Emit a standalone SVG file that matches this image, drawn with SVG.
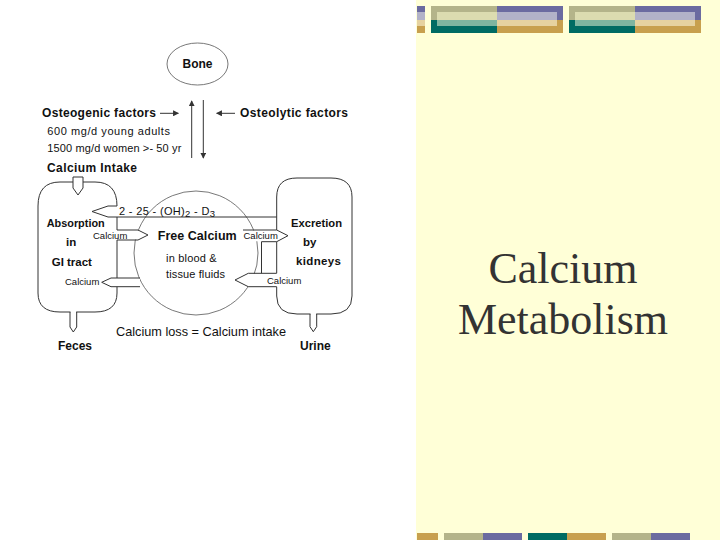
<svg xmlns="http://www.w3.org/2000/svg" width="720" height="540" viewBox="0 0 720 540">
<defs>
<style>
.ln{fill:none;stroke:#333;stroke-width:1}
.thin{fill:none;stroke:#555;stroke-width:0.8}
.wf{fill:#fff;stroke:none}
.b{font-family:"Liberation Sans",Arial,sans-serif;font-weight:bold;fill:#111}
.r{font-family:"Liberation Sans",Arial,sans-serif;fill:#111}
.t{font-family:"Liberation Serif","Times New Roman",serif;font-size:44px;fill:#333;text-anchor:middle}
.ol{fill:#B4B48A}.tl{fill:#006B63}.pu{fill:#6B6BA0}.go{fill:#C8A04E}
.lol{fill:#DCDCB0}.ltl{fill:#7FB5A0}.lpu{fill:#B2B2C8}.lgo{fill:#E6D2A0}
</style>
<marker id="ah" viewBox="0 0 8 8" refX="7" refY="4" markerWidth="6" markerHeight="6" orient="auto" markerUnits="userSpaceOnUse">
<path d="M0,0 L8,4 L0,8 Z" fill="#333"/>
</marker>
</defs>
<rect x="0" y="0" width="720" height="540" fill="#fff"/>
<rect x="416" y="0" width="304" height="540" fill="#FFFFD7"/>
<g id="deco-top">
<rect class="pu" x="417" y="6" width="8" height="14"/><rect class="go" x="417" y="20" width="8" height="13"/>
<rect class="lpu" x="417" y="12" width="8" height="8"/><rect class="lgo" x="417" y="20" width="8" height="6"/>
<rect class="ol" x="431" y="6" width="66" height="14"/><rect class="tl" x="431" y="20" width="66" height="13"/>
<rect class="pu" x="497" y="6" width="66" height="14"/><rect class="go" x="497" y="20" width="66" height="13"/>
<rect class="lol" x="437" y="12" width="60" height="8"/><rect class="ltl" x="437" y="20" width="60" height="6"/>
<rect class="lpu" x="497" y="12" width="60" height="8"/><rect class="lgo" x="497" y="20" width="60" height="6"/>
<rect class="ol" x="569" y="6" width="66" height="14"/><rect class="tl" x="569" y="20" width="66" height="13"/>
<rect class="pu" x="635" y="6" width="66" height="14"/><rect class="go" x="635" y="20" width="66" height="13"/>
<rect class="lol" x="575" y="12" width="60" height="8"/><rect class="ltl" x="575" y="20" width="60" height="6"/>
<rect class="lpu" x="635" y="12" width="60" height="8"/><rect class="lgo" x="635" y="20" width="60" height="6"/>
</g>
<g id="deco-bottom">
<rect class="go" x="417" y="533" width="21" height="7"/>
<rect class="ol" x="444" y="533" width="39" height="7"/><rect class="pu" x="483" y="533" width="39" height="7"/>
<rect class="tl" x="528" y="533" width="39" height="7"/><rect class="go" x="567" y="533" width="39" height="7"/>
<rect class="ol" x="612" y="533" width="39" height="7"/><rect class="pu" x="651" y="533" width="39" height="7"/>
</g>
<g id="title">
<text class="t" x="563" y="283">Calcium</text>
<text class="t" x="563" y="334">Metabolism</text>
</g>
<g id="bone">
<ellipse class="thin" cx="197.5" cy="64" rx="30.5" ry="21"/>
<text class="b" x="197.5" y="68" font-size="12" text-anchor="middle">Bone</text>
</g>
<g id="gi-tract">
<path class="ln" d="M117,206 Q117,182 95,182 H60 Q38,182 38,206 V293 Q38,312 60,312 H95 Q117,312 117,293 V286.7"/>
<path class="ln" d="M117,217 V230 M117,240 V278"/>
<polygon points="73,177 83,177 83,188 78,195 73,188" fill="#fff" stroke="#333" stroke-width="1"/>
<polygon class="wf" points="70.5,311 76.2,311 76.2,327 73.3,331 70.5,327"/>
<path class="ln" d="M70,312 V327 L73.3,332 L76.7,327 V312"/>
<text class="b" x="46.7" y="226.5" font-size="11.5" textLength="58" lengthAdjust="spacingAndGlyphs">Absorption</text>
<text class="b" x="66" y="246" font-size="11.5">in</text>
<text class="b" x="51.7" y="265.5" font-size="11.5">GI tract</text>
</g>
<g id="kidneys">
<path class="ln" d="M276.7,217 V197 Q276.7,178 297,178 H331 Q352,178 352,197 V296 Q352,314 331,314 H297 Q276.7,314 276.7,296 V286.7"/>
<polygon class="wf" points="310.5,313 316.2,313 316.2,326.7 313.3,331 310.5,326.7"/>
<path class="ln" d="M310,314 V326.7 L313.3,331.7 L316.7,326.7 V314"/>
<text class="b" x="291" y="226.5" font-size="11.5" textLength="51" lengthAdjust="spacingAndGlyphs">Excretion</text>
<text class="b" x="303" y="245.5" font-size="11.5">by</text>
<text class="b" x="296" y="265" font-size="11.5" textLength="45" lengthAdjust="spacing">kidneys</text>
</g>
<g id="free-calcium">
<circle class="thin" cx="196" cy="253" r="62"/>
<text class="b" x="157.7" y="239.5" font-size="12.5" textLength="79" lengthAdjust="spacing">Free Calcium</text>
<text class="r" x="166" y="262" font-size="11" textLength="50.7" lengthAdjust="spacing">in blood &amp;</text>
<text class="r" x="166" y="278" font-size="11" textLength="59" lengthAdjust="spacing">tissue fluids</text>
</g>
<g id="connectors">
<path class="ln" d="M117,206 H108 L92,211.5 L108,217 H276.7 V230"/>
<polygon class="wf" points="92,230.5 138,230.5 147,235 138,239.5 92,239.5"/>
<path class="ln" d="M117,230 H138 L148,235 L138,240 H117"/>
<polygon class="wf" points="243,230.5 276.7,230.5 287,235.7 276.7,241.2 243,241.2"/>
<path class="ln" d="M243,230 H276.7 L288,235.7 L276.7,241.7 H261.5 V273.3 M276.7,241.7 V273.3"/>
<polygon class="wf" points="102.5,282.3 111,278.5 140,278.5 140,286.2 111,286.2"/>
<path class="ln" d="M140,278 H111 L101.7,282.3 L111,286.7 H140"/>
<polygon class="wf" points="236,280 248.3,273.8 302,273.8 302,286.2 248.3,286.2"/>
<path class="ln" d="M276.7,273.3 H248.3 L235,280 L248.3,286.7 H276.7"/>
<line class="ln" x1="191.7" y1="158" x2="191.7" y2="101" marker-end="url(#ah)"/>
<line class="ln" x1="203.3" y1="100" x2="203.3" y2="158" marker-end="url(#ah)"/>
<line class="ln" x1="160" y1="113.3" x2="178.3" y2="113.3" marker-end="url(#ah)"/>
<line class="ln" x1="235" y1="113.3" x2="216.7" y2="113.3" marker-end="url(#ah)"/>
<text class="r" x="93" y="238.5" font-size="9.5">Calcium</text>
<text class="r" x="243.5" y="239" font-size="9.5">Calcium</text>
<text class="r" x="65" y="285" font-size="9.5">Calcium</text>
<text class="r" x="267" y="283.5" font-size="9.5">Calcium</text>
<text class="r" x="119" y="215" font-size="11" textLength="96" lengthAdjust="spacing">2 - 25 - (OH)<tspan font-size="9.5" dy="2">2</tspan><tspan dy="-2"> - D</tspan><tspan font-size="9.5" dy="2">3</tspan></text>
</g>
<g id="labels">
<text class="b" x="42" y="117" font-size="12" textLength="114" lengthAdjust="spacing">Osteogenic factors</text>
<text class="b" x="240" y="117" font-size="12" textLength="108" lengthAdjust="spacing">Osteolytic factors</text>
<text class="r" x="47.3" y="134.5" font-size="11" textLength="122.7" lengthAdjust="spacing">600 mg/d young adults</text>
<text class="r" x="47.3" y="151.5" font-size="11" textLength="134" lengthAdjust="spacing">1500 mg/d women &gt;- 50 yr</text>
<text class="b" x="47" y="172" font-size="12" textLength="90" lengthAdjust="spacing">Calcium Intake</text>
<text class="r" x="116" y="336" font-size="13" textLength="170" lengthAdjust="spacingAndGlyphs">Calcium loss = Calcium intake</text>
<text class="b" x="58" y="350" font-size="12">Feces</text>
<text class="b" x="300" y="350" font-size="12">Urine</text>
</g>
</svg>
